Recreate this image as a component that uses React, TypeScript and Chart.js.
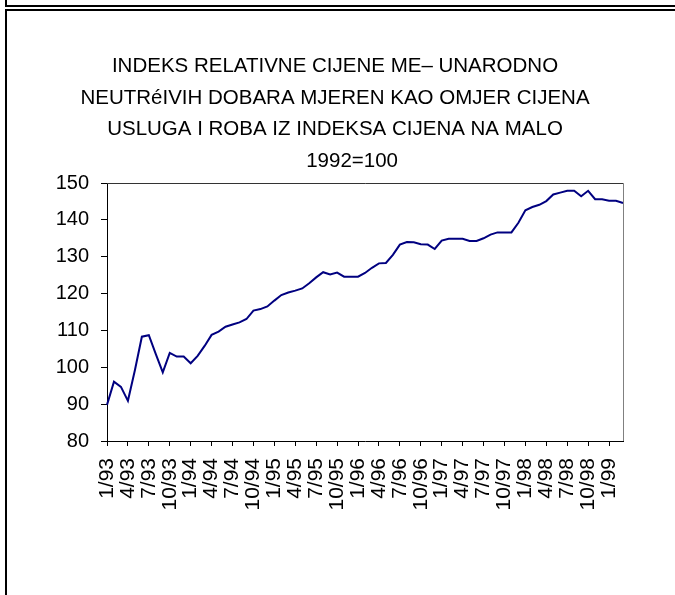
import React, { useEffect, useRef } from "react";
import { Chart, registerables } from "chart.js";

Chart.register(...registerables);

const CATEGORIES = [
  "1/93", "2/93", "3/93", "4/93", "5/93", "6/93", "7/93", "8/93", "9/93", "10/93", "11/93", "12/93",
  "1/94", "2/94", "3/94", "4/94", "5/94", "6/94", "7/94", "8/94", "9/94", "10/94", "11/94", "12/94",
  "1/95", "2/95", "3/95", "4/95", "5/95", "6/95", "7/95", "8/95", "9/95", "10/95", "11/95", "12/95",
  "1/96", "2/96", "3/96", "4/96", "5/96", "6/96", "7/96", "8/96", "9/96", "10/96", "11/96", "12/96",
  "1/97", "2/97", "3/97", "4/97", "5/97", "6/97", "7/97", "8/97", "9/97", "10/97", "11/97", "12/97",
  "1/98", "2/98", "3/98", "4/98", "5/98", "6/98", "7/98", "8/98", "9/98", "10/98", "11/98", "12/98",
  "1/99", "2/99", "3/99",
];

const INDEX_VALUES = [
  89.8, 96.1, 94.7, 90.9, 99.2, 108.3, 108.7, 103.6, 98.6, 103.9, 102.9, 102.9,
  101.1, 103.1, 105.8, 108.8, 109.7, 111.0, 111.6, 112.2, 113.1, 115.4, 115.8, 116.5,
  118.1, 119.6, 120.3, 120.8, 121.4, 122.8, 124.4, 125.8, 125.2, 125.7, 124.6, 124.6,
  124.6, 125.6, 127.0, 128.2, 128.3, 130.5, 133.3, 134.0, 133.9, 133.4, 133.3, 132.1,
  134.4, 134.9, 134.9, 134.9, 134.3, 134.3, 135.0, 136.0, 136.6, 136.6, 136.6, 139.2,
  142.6, 143.5, 144.1, 145.1, 146.9, 147.4, 147.9, 147.9, 146.4, 147.9, 145.6, 145.6,
  145.2, 145.2, 144.6,
];

const TICK_LABELS = [
  "1/93", "4/93", "7/93", "10/93", "1/94", "4/94", "7/94", "10/94",
  "1/95", "4/95", "7/95", "10/95", "1/96", "4/96", "7/96", "10/96",
  "1/97", "4/97", "7/97", "10/97", "1/98", "4/98", "7/98", "10/98", "1/99",
];

const TITLE_LINES = [
  "INDEKS RELATIVNE CIJENE ME– UNARODNO",
  "NEUTRéIVIH DOBARA MJEREN KAO OMJER CIJENA",
  "USLUGA I ROBA IZ INDEKSA CIJENA NA MALO",
  "      1992=100",
];

const Y_MIN = 80;
const Y_MAX = 150;
const Y_STEP = 10;

const FONT_FAMILY = "'Liberation Sans', Arial, sans-serif";

const plotFrame = {
  id: "plotFrame",
  afterDatasetsDraw(chart: any) {
    const { ctx, chartArea } = chart;
    const { left, top, right, bottom } = chartArea;
    ctx.save();
    ctx.lineWidth = 1;
    ctx.strokeStyle = "#333333";
    ctx.beginPath();
    ctx.moveTo(left, Math.round(top) + 0.5);
    ctx.lineTo(Math.round(right) + 0.5, Math.round(top) + 0.5);
    ctx.stroke();
    ctx.strokeStyle = "#808080";
    ctx.beginPath();
    ctx.moveTo(Math.round(right) + 0.5, Math.round(top) + 0.5);
    ctx.lineTo(Math.round(right) + 0.5, bottom);
    ctx.stroke();
    ctx.restore();
  },
};

export default function App() {
  const canvasRef = useRef<HTMLCanvasElement | null>(null);

  useEffect(() => {
    const canvas = canvasRef.current;
    if (!canvas) return;
    const chart = new Chart(canvas, {
      type: "line",
      data: {
        labels: CATEGORIES,
        datasets: [
          {
            data: INDEX_VALUES,
            borderColor: "#000080",
            borderWidth: 2,
            pointRadius: 0,
            tension: 0,
            fill: false,
          },
        ],
      },
      options: {
        animation: false,
        responsive: false,
        devicePixelRatio: 1,
        layout: { padding: { left: 47, right: 52, top: 20, bottom: 74 } },
        plugins: {
          legend: { display: false },
          tooltip: { enabled: false },
          title: {
            display: true,
            text: TITLE_LINES,
            color: "#000000",
            font: { family: FONT_FAMILY, size: 20.5, weight: "normal", lineHeight: 1.537 },
            padding: { top: 31, bottom: 6 },
          },
        },
        scales: {
          x: {
            type: "category",
            offset: false,
            grid: {
              display: true,
              drawOnChartArea: false,
              drawTicks: true,
              tickLength: 5,
              color: "#000000",
              lineWidth: 1,
            },
            border: { display: true, color: "#000000", width: 1 },
            ticks: {
              autoSkip: false,
              maxRotation: 90,
              minRotation: 90,
              padding: 12,
              color: "#000000",
              font: { family: FONT_FAMILY, size: 21 },
              callback: (_value: any, index: number) => {
                const label = CATEGORIES[index];
                return TICK_LABELS.includes(label) ? label : null;
              },
            },
            afterFit: (scale: any) => {
              scale.height = 80;
            },
          },
          y: {
            min: Y_MIN,
            max: Y_MAX,
            ticks: {
              stepSize: Y_STEP,
              padding: 12,
              color: "#000000",
              font: { family: FONT_FAMILY, size: 20 },
            },
            grid: {
              display: true,
              drawOnChartArea: false,
              drawTicks: true,
              tickLength: 6,
              color: "#000000",
            },
            border: { display: true, color: "#000000", width: 1 },
            afterFit: (scale: any) => {
              scale.width = 60;
            },
          },
        },
      },
      plugins: [plotFrame],
    });
    return () => chart.destroy();
  }, []);

  return (
    <div
      style={{
        position: "fixed",
        left: 0,
        top: 0,
        width: 675,
        height: 595,
        overflow: "hidden",
        background: "#ffffff",
      }}
    >
      <div
        style={{
          position: "absolute",
          left: 5,
          top: -20,
          width: 800,
          height: 27,
          boxSizing: "border-box",
          border: "2px solid #000000",
        }}
      />
      <div
        style={{
          position: "absolute",
          left: 5,
          top: 9,
          width: 800,
          height: 800,
          boxSizing: "border-box",
          border: "2px solid #000000",
        }}
      />
      <canvas
        ref={canvasRef}
        width={675}
        height={595}
        style={{ position: "absolute", left: 0, top: 0, width: 675, height: 595 }}
      />
    </div>
  );
}
